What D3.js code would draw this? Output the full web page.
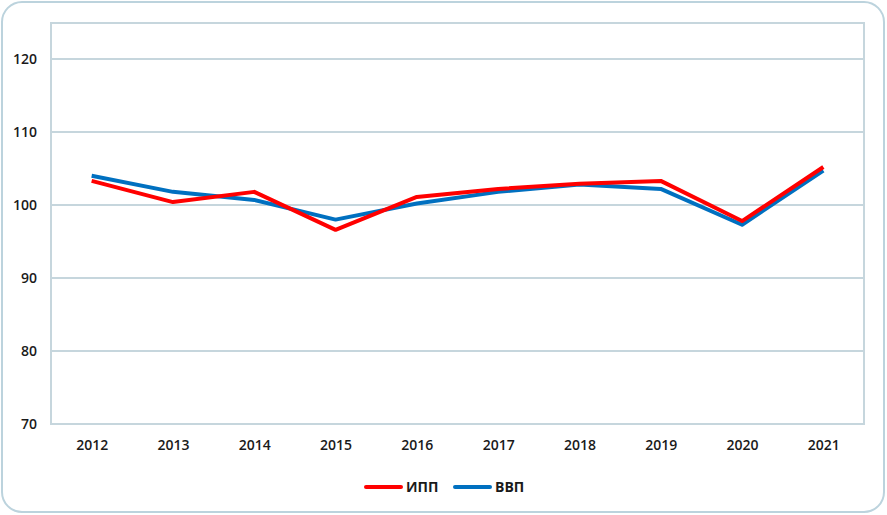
<!DOCTYPE html>
<html>
<head>
<meta charset="utf-8">
<script src="https://cdn.jsdelivr.net/npm/d3@7"></script>
<style>
  body { margin: 0; background: #fff; }
  text { font-family: "Open Sans", "Liberation Sans", sans-serif; fill: #1a1a1a; }
</style>
</head>
<body>
<script>
// chart data
const years = ["2012", "2013", "2014", "2015", "2016", "2017", "2018", "2019", "2020", "2021"];
const ipp = [103.3, 100.4, 101.8, 96.6, 101.1, 102.2, 102.9, 103.3, 97.8, 105.2];
const vvp = [104.0, 101.8, 100.7, 98.0, 100.2, 101.8, 102.8, 102.2, 97.3, 104.7];
const yTicks = [70, 80, 90, 100, 110, 120];
const seriesNames = ["ИПП", "ВВП"];
const seriesColors = ["#ff0000", "#0070c0"];

const W = 887, H = 515;
const margin = {top: 23, right: 23, bottom: 91, left: 51};
const width = W - margin.left - margin.right,
      height = H - margin.top - margin.bottom;

const svg = d3.select("body").append("svg")
  .attr("width", W)
  .attr("height", H);

// outer rounded frame
svg.append("rect")
  .attr("x", 2).attr("y", 2)
  .attr("width", W - 5).attr("height", H - 5)
  .attr("rx", 20)
  .attr("fill", "#fff")
  .attr("stroke", "#bcd3dd")
  .attr("stroke-width", 2);

const g = svg.append("g")
  .attr("transform", "translate(" + margin.left + "," + margin.top + ")");

const x = d3.scalePoint()
  .domain(years)
  .range([0, width])
  .padding(0.5);

const y = d3.scaleLinear()
  .domain([70, 70 + 10 * height / 73])
  .range([height, 0]);

// gridlines
g.append("g")
  .selectAll("line")
  .data(yTicks)
  .join("line")
  .attr("x1", 0).attr("x2", width)
  .attr("y1", d => y(d)).attr("y2", d => y(d))
  .attr("stroke", "#c6d6dd")
  .attr("stroke-width", 2);

// plot border
g.append("rect")
  .attr("width", width).attr("height", height)
  .attr("fill", "none")
  .attr("stroke", "#c6d6dd")
  .attr("stroke-width", 2);

// y axis labels
const yAxis = g.append("g")
  .call(d3.axisLeft(y).tickValues(yTicks).tickSize(0).tickPadding(14));
yAxis.select(".domain").remove();
yAxis.selectAll("text")
  .attr("font-size", 14)
  .attr("font-weight", 600)
  .attr("fill", "#1a1a1a");

// x axis labels
const xAxis = g.append("g")
  .attr("transform", "translate(0," + height + ")")
  .call(d3.axisBottom(x).tickSize(0).tickPadding(16));
xAxis.select(".domain").remove();
xAxis.selectAll("text")
  .attr("font-size", 14)
  .attr("font-weight", 600)
  .attr("fill", "#1a1a1a");

// lines, blue first so red sits on top
const line = d3.line()
  .x((d, i) => x(years[i]))
  .y(d => y(d));

[vvp, ipp].forEach((s, k) => {
  const i = 1 - k;
  g.append("path")
    .datum(s)
    .attr("fill", "none")
    .attr("stroke", seriesColors[i])
    .attr("stroke-width", 4)
    .attr("stroke-linejoin", "round")
    .attr("d", line);
});

// legend
const legend = svg.append("g")
  .attr("transform", "translate(366,487)");
const legX = [0, 89];
seriesNames.forEach((name, i) => {
  const item = legend.append("g").attr("transform", "translate(" + legX[i] + ",0)");
  item.append("line")
    .attr("x1", 0).attr("x2", 35)
    .attr("stroke", seriesColors[i])
    .attr("stroke-width", 4)
    .attr("stroke-linecap", "round");
  item.append("text")
    .attr("x", 40).attr("y", 5)
    .attr("font-size", 14)
    .attr("font-weight", 700)
    .text(name);
});
</script>
</body>
</html>
